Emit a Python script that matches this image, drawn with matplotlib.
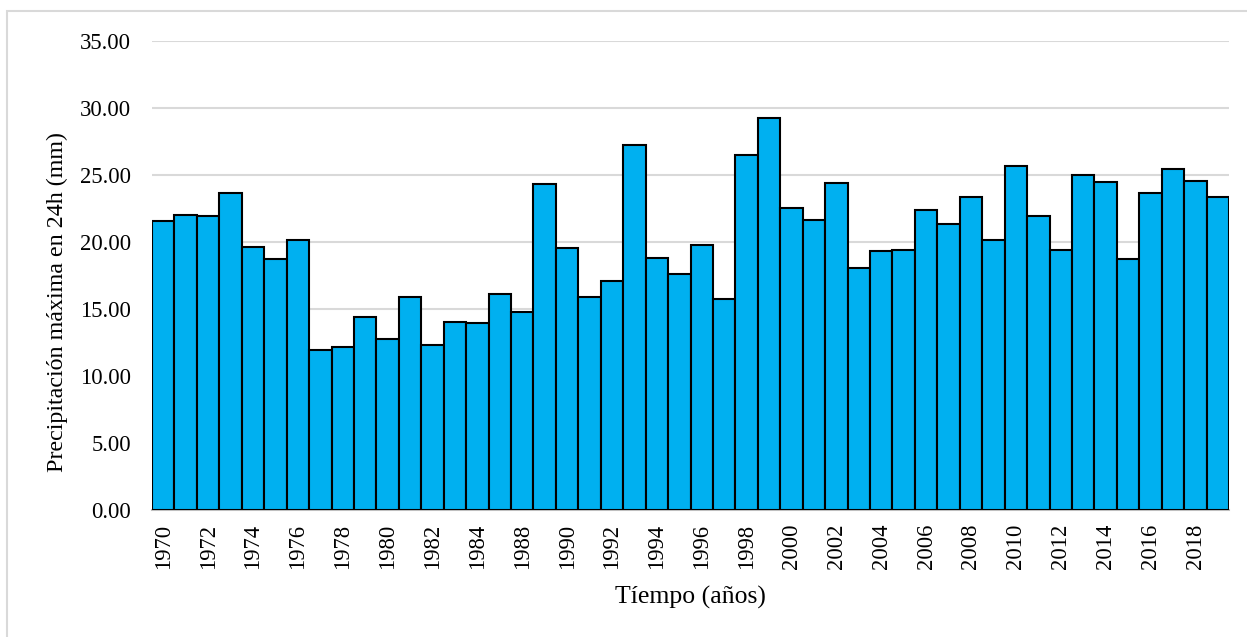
import matplotlib.pyplot as plt
from matplotlib.patches import Rectangle
from matplotlib.ticker import FormatStrFormatter

# Years shown on the chart (1986-1987 are absent in the series)
years = list(range(1970, 1986)) + list(range(1988, 2020))

# Maximum 24h precipitation (mm)
precip = [
    21.60, 22.04, 21.94, 23.66, 19.65, 18.73, 20.15, 11.94, 12.14, 14.40,
    12.79, 15.92, 12.31, 14.03, 13.96, 16.12, 14.80, 24.35, 19.55, 15.92,
    17.06, 27.21, 18.78, 17.61, 19.74, 15.74, 26.46, 29.23, 22.54, 21.62,
    24.42, 18.03, 19.34, 19.37, 22.39, 21.32, 23.33, 20.13, 25.64, 21.94,
    19.39, 24.99, 24.45, 18.70, 23.65, 25.44, 24.55, 23.33,
]

yticks = [0, 5, 10, 15, 20, 25, 30, 35]

plt.rcParams['font.family'] = ['Liberation Serif', 'DejaVu Serif']

W, H = 1247, 637
fig = plt.figure(figsize=(W / 100, H / 100), dpi=100)

# light gray chart-area border (right/bottom edges are cut off in the image)
fig.patches.append(Rectangle((7 / W, 0 - 0.02), 1.1, (H - 11) / H + 0.02,
                             transform=fig.transFigure, fill=False,
                             edgecolor='#d9d9d9', linewidth=1.5))

ax = fig.add_axes([152 / W, (H - 510) / H, (1229 - 152) / W, (510 - 41) / H])

x = list(range(len(years)))
ax.bar(x, precip, width=1.0, color='#00B0F0', edgecolor='black',
       linewidth=1.5, zorder=3)

ax.set_xlim(-0.5, len(years) - 0.5)
ax.set_ylim(0, 35)
ax.set_yticks(yticks)
ax.yaxis.set_major_formatter(FormatStrFormatter('%.2f'))
ax.yaxis.grid(True, color='#d9d9d9', linewidth=1.5, zorder=0)

ax.set_xticks(x[::2])
ax.set_xticklabels([str(y) for y in years[::2]], rotation=90)

for s in ['top', 'right', 'left']:
    ax.spines[s].set_visible(False)
ax.spines['bottom'].set_color('#bfbfbf')
ax.spines['bottom'].set_linewidth(1.5)
ax.tick_params(axis='both', length=0, labelsize=16.3)
ax.tick_params(axis='y', pad=15)
ax.tick_params(axis='x', pad=10)

fig.text(57 / W, 1 - 302 / H, 'Precipitación máxima en 24h (mm)',
         rotation=90, ha='center', va='center', fontsize=17.3)
fig.text(690 / W, 1 - 597 / H, 'Tíempo (años)',
         ha='center', va='center', fontsize=18.5)

fig.savefig('out.png', dpi=100)
